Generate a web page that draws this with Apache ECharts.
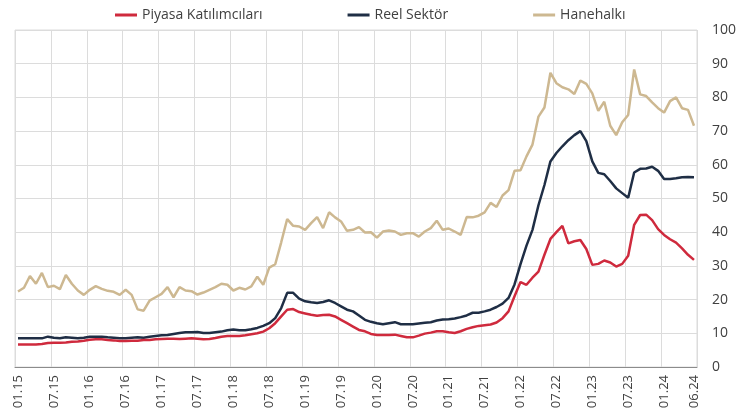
<!DOCTYPE html>
<html>
<head>
<meta charset="utf-8">
<script src="https://cdn.jsdelivr.net/npm/echarts@6/dist/echarts.min.js"></script>
<style>
  html, body { margin: 0; padding: 0; background: #fff; }
  #main { width: 739px; height: 416px; }
</style>
</head>
<body>
<div id="main"></div>
<script>
// aylar: 01.15 - 06.24
var months = [];
for (var y = 15; y <= 24; y++) {
  for (var m = 1; m <= 12; m++) {
    if (y === 24 && m > 6) break;
    months.push((m < 10 ? '0' + m : '' + m) + '.' + y);
  }
}

var seriesNames = ['Piyasa Katılımcıları', 'Reel Sektör', 'Hanehalkı'];

// Piyasa Katılımcıları
var piyasa = [
  6.7, 6.7, 6.7, 6.7, 6.8, 7.1, 7.2, 7.2, 7.3, 7.5, 7.6, 7.8,
  8.1, 8.2, 8.2, 8.0, 7.9, 7.7, 7.7, 7.8, 7.8, 8.0, 8.0, 8.2,
  8.3, 8.4, 8.4, 8.3, 8.4, 8.5, 8.4, 8.2, 8.3, 8.6, 9.0, 9.2,
  9.2, 9.2, 9.4, 9.7, 10.0, 10.5, 11.5, 13.0, 15.0, 17.0, 17.2, 16.3,
  15.9, 15.5, 15.2, 15.4, 15.5, 15.0, 14.0, 13.0, 12.0, 11.0, 10.6, 9.8,
  9.5, 9.5, 9.5, 9.6, 9.2, 8.8, 8.8, 9.3, 9.9, 10.2, 10.6, 10.6,
  10.3, 10.1, 10.6, 11.3, 11.8, 12.2, 12.4, 12.6, 13.2, 14.5, 16.5, 21.0,
  25.2, 24.4, 26.5, 28.3, 33.3, 38.0, 40.0, 41.9, 36.7, 37.3, 37.7, 35.0,
  30.3, 30.6, 31.6, 31.0, 29.8, 30.6, 33.0, 42.2, 45.1, 45.2, 43.6, 40.9,
  39.2, 37.9, 36.9, 35.2, 33.3, 31.8
];

// Reel Sektör
var reel = [
  8.5, 8.5, 8.5, 8.5, 8.5, 9.0, 8.7, 8.5, 8.8, 8.7, 8.5, 8.7,
  9.0, 9.0, 9.0, 8.8, 8.7, 8.5, 8.5, 8.7, 8.8, 8.7, 9.0, 9.2,
  9.4, 9.5, 9.8, 10.1, 10.3, 10.3, 10.4, 10.1, 10.1, 10.3, 10.5, 10.9,
  11.1, 10.9, 10.9, 11.2, 11.6, 12.2, 13.0, 14.5, 17.5, 22.0, 22.0, 20.3,
  19.5, 19.2, 19.0, 19.3, 19.8, 19.0, 18.0, 17.0, 16.5, 15.3, 14.0, 13.4,
  13.0, 12.7, 13.0, 13.3, 12.7, 12.7, 12.7, 12.9, 13.1, 13.3, 13.8, 14.1,
  14.2, 14.4, 14.8, 15.3, 16.1, 16.1, 16.5, 17.0, 17.8, 18.8, 20.5, 24.5,
  30.5, 36.0, 40.7, 48.0, 54.0, 61.0, 63.5, 65.5, 67.3, 68.8, 70.0, 67.0,
  61.0, 57.6, 57.2, 55.2, 53.0, 51.6, 50.2, 57.7, 58.8, 58.9, 59.4, 58.2,
  55.8, 55.8, 56.0, 56.3, 56.4, 56.3
];

// Hanehalkı
var hanehalki = [
  22.4, 23.5, 27.0, 24.7, 27.9, 23.7, 24.1, 23.1, 27.3, 24.7, 22.7, 21.4,
  22.9, 24.0, 23.2, 22.6, 22.3, 21.4, 22.9, 21.4, 17.1, 16.7, 19.7, 20.7,
  21.7, 23.7, 20.7, 23.7, 22.7, 22.5, 21.5, 22.1, 22.9, 23.7, 24.7, 24.4,
  22.7, 23.5, 23.0, 23.9, 26.8, 24.4, 29.5, 30.5, 37.0, 43.9, 41.9, 41.7,
  40.7, 42.7, 44.5, 41.2, 45.9, 44.4, 43.2, 40.4, 40.7, 41.5, 39.9, 40.0,
  38.4, 40.2, 40.5, 40.2, 39.2, 39.7, 39.7, 38.7, 40.2, 41.2, 43.4, 40.7,
  41.1, 40.2, 39.2, 44.5, 44.4, 44.9, 45.9, 48.7, 47.5, 50.9, 52.5, 58.2,
  58.4, 62.5, 66.0, 74.3, 77.0, 87.3, 84.2, 83.0, 82.4, 81.0, 85.0, 84.0,
  81.2, 76.0, 78.7, 71.6, 68.8, 72.6, 74.8, 88.3, 80.9, 80.4, 78.5, 76.8,
  75.5, 78.9, 80.0, 76.8, 76.3, 71.6
];

var colors = ['#cf2a3d', '#1f2e45', '#cdb891'];

var chart = echarts.init(document.getElementById('main'));
chart.setOption({
  animation: false,
  textStyle: { fontFamily: 'Open Sans', color: '#404040' },
  color: colors,
  legend: {
    top: 3,
    left: 110,
    itemGap: 85,
    itemWidth: 22,
    itemHeight: 3,
    icon: 'rect',
    textStyle: { fontSize: 14, color: '#404040', fontFamily: 'Open Sans' },
    data: seriesNames
  },
  grid: {
    left: 15,
    right: 33,
    top: 30,
    bottom: 49,
    show: true,
    borderColor: '#dcdcdc',
    borderWidth: 1
  },
  xAxis: {
    type: 'category',
    data: months,
    boundaryGap: true,
    axisLine: { lineStyle: { color: '#8c8c8c', width: 1 } },
    axisTick: { show: false },
    axisLabel: {
      rotate: 90,
      fontSize: 13,
      color: '#404040',
      margin: 8,
      interval: function (i) { return i % 6 === 0 || i === months.length - 1; }
    },
    splitLine: {
      show: true,
      interval: function (i) { return i % 6 === 0; },
      lineStyle: { color: '#dcdcdc', width: 1 }
    }
  },
  yAxis: {
    type: 'value',
    position: 'right',
    min: 0,
    max: 100,
    interval: 10,
    axisLine: { show: false },
    axisTick: { show: false },
    axisLabel: { fontSize: 14, color: '#404040', margin: 15 },
    splitLine: { lineStyle: { color: '#dcdcdc', width: 1 } }
  },
  series: [
    {
      name: seriesNames[2],
      type: 'line',
      data: hanehalki,
      symbol: 'none',
      lineStyle: { width: 2.5, color: colors[2] },
      itemStyle: { color: colors[2] }
    },
    {
      name: seriesNames[1],
      type: 'line',
      data: reel,
      symbol: 'none',
      lineStyle: { width: 2.5, color: colors[1] },
      itemStyle: { color: colors[1] }
    },
    {
      name: seriesNames[0],
      type: 'line',
      data: piyasa,
      symbol: 'none',
      lineStyle: { width: 2.5, color: colors[0] },
      itemStyle: { color: colors[0] }
    }
  ]
});
</script>
</body>
</html>
